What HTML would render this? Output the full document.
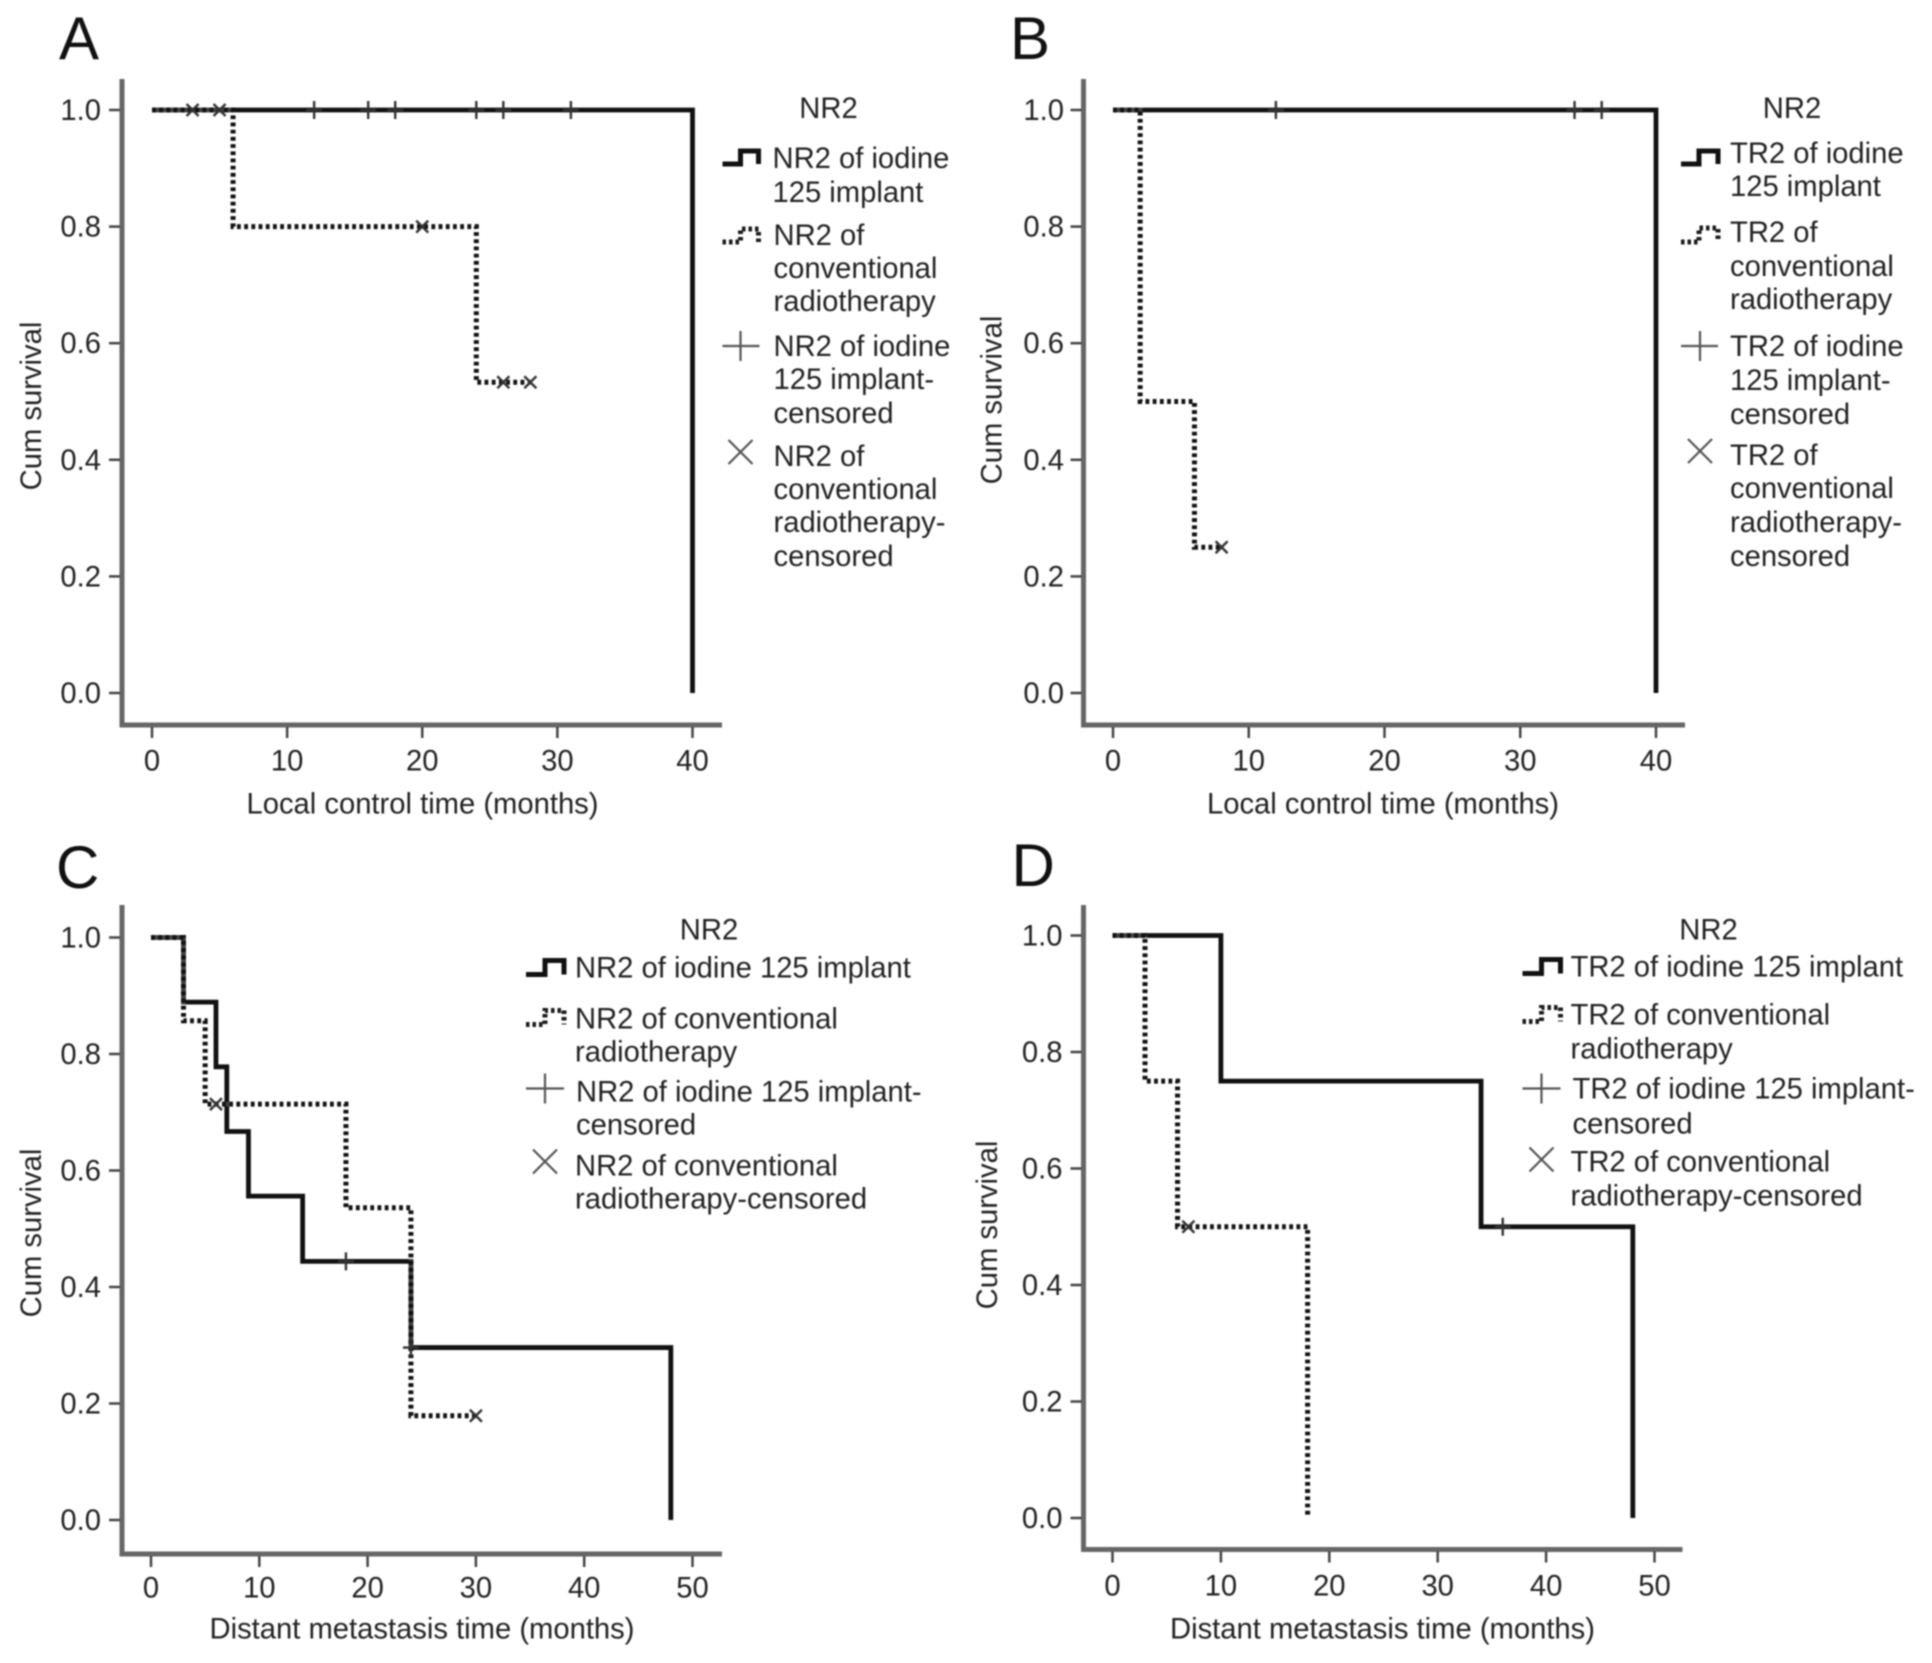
<!DOCTYPE html>
<html lang="en">
<head>
<meta charset="utf-8">
<title>Survival curves by NR2 and TR2</title>
<style>
html,body{margin:0;padding:0;background:#fff;}
svg{display:block;filter:blur(0.7px);}
text{font-family:"Liberation Sans",Arial,sans-serif;font-size:29.2px;fill:#222;}
.letter{font-size:60px;fill:#111;}
.mid{text-anchor:middle;}
.leg-solid{fill:none;stroke:#111;stroke-width:5;}
.leg-dot{fill:none;stroke:#1a1a1a;stroke-width:5;stroke-dasharray:3.5 3;}
.leg-mark{fill:none;stroke:#555;stroke-width:2.2;}
</style>
</head>
<body>
<svg id="figure" xmlns="http://www.w3.org/2000/svg" width="1932" height="1663" viewBox="0 0 1932 1663">
<rect x="0" y="0" width="1932" height="1663" fill="#fff"/>

<g>
<text class="letter" x="59" y="59">A</text>
<text class="mid" transform="translate(41,406) rotate(-90)">Cum survival</text>
<text class="mid" x="422.5" y="813.5">Local control time (months)</text>
<g transform="translate(-2.5,-1)">
<text class="mid" x="831" y="119">NR2</text>
<g>
<path class="leg-solid" d="M725 165H743V152H761V165"/>
<text x="775" y="169">NR2 of iodine</text><text x="775" y="203">125 implant</text></g>
<g>
<path class="leg-dot" d="M725 243H743V230H761V243"/>
<text x="776" y="246">NR2 of</text><text x="776" y="279">conventional</text><text x="776" y="312">radiotherapy</text></g>
<g>
<path class="leg-mark" d="M725 347H762M743 332V362"/>
<text x="776" y="357">NR2 of iodine</text><text x="776" y="390">125 implant-</text><text x="776" y="424">censored</text></g>
<g>
<path class="leg-mark" d="M731 442L755 466M755 442L731 466" transform="translate(0,-1)" />
<text x="776" y="467">NR2 of</text><text x="776" y="500">conventional</text><text x="776" y="533">radiotherapy-</text><text x="776" y="567">censored</text></g>
</g>
</g>

<g>
<text class="letter" x="1010" y="59">B</text>
<text class="mid" transform="translate(1001.5,400) rotate(-90)">Cum survival</text>
<text class="mid" x="1383" y="813.5">Local control time (months)</text>
<g transform="translate(-3,-1)">
<text class="mid" x="1795" y="119">NR2</text>
<g>
<path class="leg-solid" d="M1684 165H1702V152H1721V165"/>
<text x="1733" y="164">TR2 of iodine</text><text x="1733" y="197">125 implant</text></g>
<g>
<path class="leg-dot" d="M1684 243H1702V229H1721V243"/>
<text x="1733" y="243">TR2 of</text><text x="1733" y="277">conventional</text><text x="1733" y="310">radiotherapy</text></g>
<g>
<path class="leg-mark" d="M1684 347H1721M1703 332V362"/>
<text x="1733" y="357">TR2 of iodine</text><text x="1733" y="391">125 implant-</text><text x="1733" y="425">censored</text></g>
<g>
<path class="leg-mark" d="M1691 441L1715 465M1715 441L1691 465" transform="translate(0,-1)"/>
<text x="1733" y="466">TR2 of</text><text x="1733" y="499">conventional</text><text x="1733" y="533">radiotherapy-</text><text x="1733" y="567">censored</text></g>
</g>
</g>

<g>
<text class="letter" x="56" y="888">C</text>
<text class="mid" transform="translate(41,1233) rotate(-90)">Cum survival</text>
<text class="mid" x="422" y="1638.5">Distant metastasis time (months)</text>
<g transform="translate(-1,-2.5)">
<text class="mid" x="710" y="942">NR2</text>
<g>
<path class="leg-solid" d="M527 977H546V963H565V977"/>
<text x="576" y="980">NR2 of iodine 125 implant</text></g>
<g>
<path class="leg-dot" d="M527 1027H546V1013H565V1027"/>
<text x="576" y="1031">NR2 of conventional</text><text x="576" y="1064">radiotherapy</text></g>
<g>
<path class="leg-mark" d="M527 1091H565M546 1076V1106"/>
<text x="577" y="1104">NR2 of iodine 125 implant-</text><text x="577" y="1137">censored</text></g>
<g>
<path class="leg-mark" d="M534 1153L558 1177M558 1153L534 1177" transform="translate(0,-1)"/>
<text x="576" y="1178">NR2 of conventional</text><text x="576" y="1211">radiotherapy-censored</text></g>
</g>
</g>

<g>
<text class="letter" x="1011.5" y="886">D</text>
<text class="mid" transform="translate(997,1225) rotate(-90)">Cum survival</text>
<text class="mid" x="1382.5" y="1638.5">Distant metastasis time (months)</text>
<g transform="translate(-3.5,-2.5)">
<text class="mid" x="1712" y="942">NR2</text>
<g>
<path class="leg-solid" d="M1526 976H1545V962H1564V976"/>
<text x="1574" y="979">TR2 of iodine 125 implant</text></g>
<g>
<path class="leg-dot" d="M1526 1024H1545V1010H1564V1024"/>
<text x="1574" y="1027">TR2 of conventional</text><text x="1574" y="1061">radiotherapy</text></g>
<g>
<path class="leg-mark" d="M1526 1091H1564M1545 1076V1106"/>
<text x="1576" y="1101">TR2 of iodine 125 implant-</text><text x="1576" y="1136">censored</text></g>
<g>
<path class="leg-mark" d="M1533 1151L1557 1175M1557 1151L1533 1175" transform="translate(0,-1)"/>
<text x="1574" y="1174">TR2 of conventional</text><text x="1574" y="1208">radiotherapy-censored</text></g>
</g>
</g>

<g id="marks"></g>
</svg>

<script>
// Shared tick labels
const survivalTicks = [0, 0.2, 0.4, 0.6, 0.8, 1.0];
const localTimeTicks = [0, 10, 20, 30, 40];
const distantTimeTicks = [0, 10, 20, 30, 40, 50];

// Panel A
const aIodineTimes = [0, 40, 40];
const aIodineSurvival = [1, 1, 0];
const aConvTimes = [0, 6, 24, 28];
const aConvSurvival = [1, 0.8, 0.533, 0.533];
const aPlusTimes = [12, 16, 18, 24, 26, 31];
const aPlusSurvival = [1, 1, 1, 1, 1, 1];
const aCrossTimes = [3, 5, 20, 26, 28];
const aCrossSurvival = [1, 1, 0.8, 0.533, 0.533];

// Panel B
const bIodineTimes = [0, 40, 40];
const bIodineSurvival = [1, 1, 0];
const bConvTimes = [0, 2, 6, 8];
const bConvSurvival = [1, 0.5, 0.25, 0.25];
const bPlusTimes = [12, 34, 36];
const bPlusSurvival = [1, 1, 1];
const bCrossTimes = [8];
const bCrossSurvival = [0.25];

// Panel C
const cIodineTimes = [0, 3, 6, 7, 9, 14, 24, 48, 48];
const cIodineSurvival = [1, 0.889, 0.778, 0.667, 0.556, 0.444, 0.296, 0.296, 0];
const cConvTimes = [0, 3, 5, 18, 24, 30];
const cConvSurvival = [1, 0.857, 0.714, 0.536, 0.179, 0.179];
const cPlusTimes = [18, 24];
const cPlusSurvival = [0.444, 0.296];
const cCrossTimes = [6, 30];
const cCrossSurvival = [0.714, 0.179];

// Panel D
const dIodineTimes = [0, 10, 34, 48, 48];
const dIodineSurvival = [1, 0.75, 0.5, 0.5, 0];
const dConvTimes = [0, 3, 6, 18, 18];
const dConvSurvival = [1, 0.75, 0.5, 0.5, 0];
const dPlusTimes = [36];
const dPlusSurvival = [0.5];
const dCrossTimes = [7];
const dCrossSurvival = [0.5];

const SVG_NS = 'http://www.w3.org/2000/svg';
const root = document.getElementById('marks');

function make(parent, tag, attrs, txt) {
  const el = document.createElementNS(SVG_NS, tag);
  for (const k in attrs) el.setAttribute(k, attrs[k]);
  if (txt !== undefined) el.textContent = txt;
  parent.appendChild(el);
  return el;
}

function stepPath(times, surv, sx, sy) {
  let d = 'M' + sx(times[0]) + ' ' + sy(surv[0]);
  for (let i = 1; i < times.length; i++) {
    d += 'L' + sx(times[i]) + ' ' + sy(surv[i - 1]);
    d += 'L' + sx(times[i]) + ' ' + sy(surv[i]);
  }
  return d;
}

function drawPanel(id, box, xTicks, iodineT, iodineS, convT, convS, plusT, plusS, crossT, crossS) {
  const xMaxTick = xTicks[xTicks.length - 1];
  const sx = v => box.x0 + (box.xEnd - box.x0) * v / xMaxTick;
  const sy = v => box.y0 + (box.y1 - box.y0) * v;
  const g = make(root, 'g', {});
  
  

  const axes = make(g, 'path', {
    d: 'M' + box.axisX + ' ' + box.axisTop + 'V' + box.axisY + 'H' + box.axisRight,
    fill: 'none', stroke: '#666', 'stroke-width': 5
  });
  
  

  survivalTicks.forEach(v => {
    const tick = make(g, 'line', {
      x1: box.axisX - 13, x2: box.axisX - 2, y1: sy(v), y2: sy(v), stroke: '#444', 'stroke-width': 2.5
    });
    
    
    const label = make(g, 'text', { x: box.labelRight, y: sy(v) + 10, 'text-anchor': 'end' }, v.toFixed(1));
    
    
  });

  xTicks.forEach(v => {
    const tick = make(g, 'line', {
      x1: sx(v), x2: sx(v), y1: box.axisY + 2, y2: box.axisY + 13, stroke: '#444', 'stroke-width': 2.5
    });
    
    
    const label = make(g, 'text', { x: sx(v), y: box.labelY, 'text-anchor': 'middle' }, String(v));
    
    
  });

  const iodine = make(g, 'path', {
    d: stepPath(iodineT, iodineS, sx, sy), fill: 'none', stroke: '#111', 'stroke-width': 4.8
  });
  
  

  const convGap = make(g, 'path', {
    d: stepPath(convT, convS, sx, sy), fill: 'none', stroke: '#fff', 'stroke-opacity': 0.2, 'stroke-width': 4.8
  });
  
  

  const conv = make(g, 'path', {
    d: stepPath(convT, convS, sx, sy), fill: 'none', stroke: '#111', 'stroke-width': 5, 'stroke-dasharray': '3.8 3.4'
  });
  
  

  plusT.forEach((t, i) => {
    const px = sx(t), py = sy(plusS[i]);
    const m = make(g, 'path', {
      d: 'M' + (px - 8) + ' ' + py + 'H' + (px + 8) + 'M' + px + ' ' + (py - 9) + 'V' + (py + 9),
      fill: 'none', stroke: '#333', 'stroke-width': 2.4
    });
    
    
  });

  crossT.forEach((t, i) => {
    const px = sx(t), py = sy(crossS[i]);
    const m = make(g, 'path', {
      d: 'M' + (px - 6) + ' ' + (py - 6) + 'L' + (px + 6) + ' ' + (py + 6) + 'M' + (px + 6) + ' ' + (py - 6) + 'L' + (px - 6) + ' ' + (py + 6),
      fill: 'none', stroke: '#333', 'stroke-width': 2.4
    });
    
    
  });
}

drawPanel('a', { x0: 152, xEnd: 692.5, y0: 693, y1: 110, axisX: 122, axisY: 725, axisTop: 79, axisRight: 722, labelRight: 101, labelY: 770.5 },
  localTimeTicks, aIodineTimes, aIodineSurvival, aConvTimes, aConvSurvival, aPlusTimes, aPlusSurvival, aCrossTimes, aCrossSurvival);
drawPanel('b', { x0: 1113, xEnd: 1656, y0: 693, y1: 110, axisX: 1083.5, axisY: 725, axisTop: 79, axisRight: 1685, labelRight: 1064, labelY: 770.5 },
  localTimeTicks, bIodineTimes, bIodineSurvival, bConvTimes, bConvSurvival, bPlusTimes, bPlusSurvival, bCrossTimes, bCrossSurvival);
drawPanel('c', { x0: 151, xEnd: 692.5, y0: 1520, y1: 937.5, axisX: 122, axisY: 1554, axisTop: 905, axisRight: 722, labelRight: 101, labelY: 1597.5 },
  distantTimeTicks, cIodineTimes, cIodineSurvival, cConvTimes, cConvSurvival, cPlusTimes, cPlusSurvival, cCrossTimes, cCrossSurvival);
drawPanel('d', { x0: 1112.5, xEnd: 1654.5, y0: 1518, y1: 935.5, axisX: 1083.5, axisY: 1549.5, axisTop: 905, axisRight: 1682.5, labelRight: 1062.5, labelY: 1595.5 },
  distantTimeTicks, dIodineTimes, dIodineSurvival, dConvTimes, dConvSurvival, dPlusTimes, dPlusSurvival, dCrossTimes, dCrossSurvival);
</script>
</body>
</html>
